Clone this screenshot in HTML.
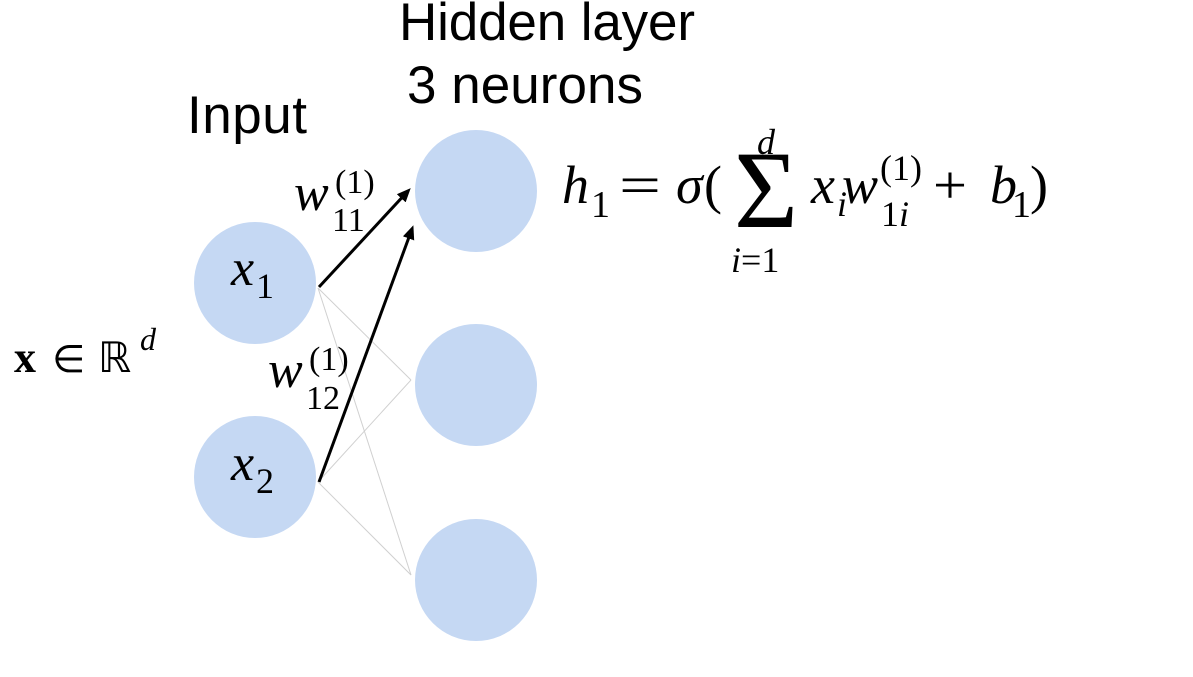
<!DOCTYPE html>
<html><head><meta charset="utf-8"><style>
html,body{margin:0;padding:0;background:#fff;}
svg{display:block;}
.sans{font-family:"Liberation Sans",sans-serif;font-size:53px;fill:#000;}
.ser{font-family:"Liberation Serif",serif;fill:#000;}
</style></head><body>
<svg width="1193" height="677" viewBox="0 0 1193 677">
<defs><marker id="ah" markerWidth="14" markerHeight="12" refX="10" refY="6" orient="auto" markerUnits="userSpaceOnUse"><path d="M0,0 L14,6 L0,12 Z" fill="#000"/></marker></defs>
<text class="sans" x="399" y="40" textLength="296">Hidden layer</text>
<text class="sans" x="407" y="103" textLength="236">3 neurons</text>
<text class="sans" x="187" y="133" textLength="120">Input</text>
<g stroke="#d0d0d0" stroke-width="1">
<line x1="318" y1="288" x2="411" y2="380"/>
<line x1="318" y1="288" x2="411" y2="575"/>
<line x1="318" y1="482" x2="411" y2="380"/>
<line x1="318" y1="482" x2="411" y2="575"/>
</g>
<g fill="#c5d8f3">
<circle cx="255" cy="283" r="61"/>
<circle cx="255" cy="477" r="61"/>
<circle cx="476" cy="191" r="61"/>
<circle cx="476" cy="385" r="61"/>
<circle cx="476" cy="580" r="61"/>
</g>
<line x1="319" y1="287" x2="408" y2="191" stroke="#000" stroke-width="3" marker-end="url(#ah)"/>
<line x1="319" y1="482" x2="412" y2="229" stroke="#000" stroke-width="3" marker-end="url(#ah)"/>
<text class="ser" font-size="52"><tspan x="231" y="285" font-style="italic">x</tspan><tspan x="256" y="298" font-size="36">1</tspan></text>
<text class="ser" font-size="52"><tspan x="231" y="480" font-style="italic">x</tspan><tspan x="256" y="493" font-size="36">2</tspan></text>
<text class="ser" font-size="52"><tspan x="294" y="210" font-style="italic">w</tspan><tspan x="335" y="193" font-size="34">(1)</tspan><tspan x="332" y="231" font-size="34">11</tspan></text>
<text class="ser" font-size="52"><tspan x="268" y="387" font-style="italic">w</tspan><tspan x="309" y="370" font-size="34">(1)</tspan><tspan x="306" y="409" font-size="34">12</tspan></text>
<text class="ser" font-size="44"><tspan x="14" y="372" font-weight="bold">x</tspan><tspan x="52" y="372" font-family="DejaVu Sans" font-size="38">∈</tspan><tspan x="98" y="372" font-family="DejaVu Sans" font-size="42">ℝ</tspan><tspan x="140" y="350" font-size="32" font-style="italic">d</tspan></text>
<g class="ser">
<text x="562" y="203" font-size="54" font-style="italic">h</text>
<text x="591" y="217" font-size="38">1</text>
<text x="619" y="203" font-size="54" textLength="42" lengthAdjust="spacingAndGlyphs">=</text>
<text x="676" y="203" font-size="54" font-style="italic">σ</text>
<text x="704" y="203" font-size="54">(</text>
<text x="734" y="227" font-size="110">Σ</text>
<text x="757" y="154" font-size="36" font-style="italic">d</text>
<text x="731" y="272" font-size="36"><tspan font-style="italic">i</tspan>=1</text>
<text x="811" y="203" font-size="54" font-style="italic">x</text>
<text x="837" y="216" font-size="36" font-style="italic">i</text>
<text x="842" y="203" font-size="54" font-style="italic">w</text>
<text x="880" y="180" font-size="36">(1)</text>
<text x="881" y="226" font-size="36">1<tspan font-style="italic">i</tspan></text>
<text x="933" y="203" font-size="54" textLength="34" lengthAdjust="spacingAndGlyphs">+</text>
<text x="990" y="203" font-size="54" font-style="italic">b</text>
<text x="1012" y="217" font-size="38">1</text>
<text x="1030" y="203" font-size="54">)</text>
</g>
</svg>
</body></html>
